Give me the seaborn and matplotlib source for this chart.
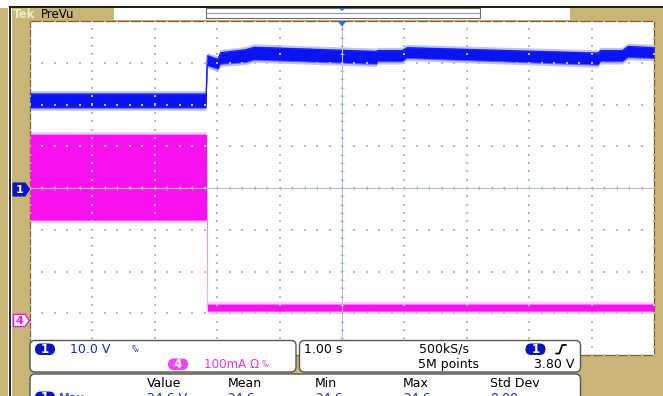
import numpy as np
import pandas as pd
import matplotlib
matplotlib.use("Agg")
import matplotlib.pyplot as plt
import seaborn as sns
from matplotlib.patches import FancyBboxPatch, Rectangle, Polygon
from matplotlib.collections import LineCollection

# ---------------- data ----------------
# Channel 1 (blue, volts) envelope of the noisy trace, time in s from left screen edge
ch1_time = [0.00, 2.82, 2.84, 3.01, 3.05, 3.45, 3.59, 5.55, 5.57, 5.96, 6.04, 9.10, 9.14, 9.49, 9.58, 10.00]
ch1_upper = [22.5, 22.5, 31.7, 30.8, 32.4, 33.1, 33.7, 32.7, 32.9, 32.9, 33.6, 32.3, 32.9, 32.9, 33.9, 33.6]
ch1_lower = [19.4, 19.4, 29.5, 28.7, 29.9, 30.3, 30.9, 29.9, 30.5, 30.5, 31.3, 29.7, 30.5, 30.5, 31.5, 31.3]

# Channel 4 (magenta, mA) envelope
ch4_time = [0.00, 2.83, 2.84, 10.00]
ch4_upper = [447, 447, 40, 40]
ch4_lower = [241, 241, 23, 23]

# vertical settings
ch1_scale = 10.0     # V / div
ch4_scale = 100.0    # mA / div
ch1_offset = 0.0     # div
ch4_offset = -3.18   # div

# readout texts
ch1_label = "10.0 V"
ch4_label = "100mA \u03a9"
time_label = "1.00 s"
rate_label = "500kS/s"
points_label = "5M points"
trig_label = "3.80 V"
meas_headers = ["Value", "Mean", "Min", "Max", "Std Dev"]
meas_name = "Max"
meas_values = ["24.6 V", "24.6", "24.6", "24.6", "0.00"]

# ---------------- styling ----------------
sns.set_style("white")
plt.rcParams['font.family'] = ['DejaVu Sans']

W, H = 663, 396
TAN = '#c7b676'
BLUE = '#0a14f0'
DBLUE = '#0616c0'
PINK = '#fb12f3'
TXT_BLUE = '#1428d6'
TXT_PINK = '#e63ae6'

fig = plt.figure(figsize=(W / 100, H / 100), dpi=100)
fig.patch.set_facecolor(TAN)

L, T, R, B = 30, 21, 654, 355
ax = fig.add_axes([L / W, 1 - B / H, (R - L) / W, (B - T) / H])
ax.set_xlim(0, 10)
ax.set_ylim(-4, 4)
ax.set_facecolor('white')
for s in ax.spines.values():
    s.set_color('#8a5a2a')
    s.set_linewidth(0.9)
ax.set_xticks([])
ax.set_yticks([])

# traces
t1 = np.array(ch1_time)
u1 = np.array(ch1_upper) / ch1_scale + ch1_offset
l1 = np.array(ch1_lower) / ch1_scale + ch1_offset
t4 = np.array(ch4_time)
u4 = np.array(ch4_upper) / ch4_scale + ch4_offset
l4 = np.array(ch4_lower) / ch4_scale + ch4_offset

# faint connecting edge of ch4 step
ax.plot([t4[1] + 0.005, t4[1] + 0.005], [l4[1], u4[2]], color='#ffc0ff', lw=0.8, zorder=2)

ax.fill_between(t4, l4 - 0.06, u4 + 0.06, color=PINK, alpha=0.22, lw=0, zorder=2)
ax.fill_between(t4, l4, u4, color=PINK, lw=0, zorder=3)
ax.fill_between(t1, l1 - 0.08, u1 + 0.08, color=BLUE, alpha=0.25, lw=0, zorder=2)
ax.fill_between(t1, l1 - 0.03, u1 + 0.03, color=BLUE, alpha=0.6, lw=0, zorder=2)
ax.fill_between(t1, l1, u1, color=BLUE, lw=0, zorder=3)
sns.lineplot(x=t1, y=u1, ax=ax, color=BLUE, lw=0.6, sort=False, estimator=None, zorder=3)
sns.lineplot(x=t1, y=l1, ax=ax, color=BLUE, lw=0.6, sort=False, estimator=None, zorder=3)

# graticule dots
gx, gy = [], []
for xv in range(0, 11):
    for yv in np.arange(-4, 4.001, 0.2):
        gx.append(xv); gy.append(yv)
for yv in range(-4, 5):
    for xv in np.arange(0, 10.001, 0.2):
        gx.append(xv); gy.append(yv)
ax.scatter(gx, gy, s=0.6, marker='s', color='#bcbcbc', linewidths=0, zorder=4)

# center cross with ticks
ax.axvline(5, color='#b4c0d2', lw=0.8, zorder=5)
ax.axhline(0, color='#b4c0d2', lw=0.8, zorder=5)
segs = []
for yv in np.arange(-4, 4.001, 0.2):
    segs.append([(5 - 0.03, yv), (5 + 0.03, yv)])
for xv in np.arange(0, 10.001, 0.2):
    segs.append([(xv, -0.045), (xv, 0.045)])
ax.add_collection(LineCollection(segs, colors='#b0bccc', lw=0.7, zorder=5))

# ---------------- overlay (chrome in pixel coords) ----------------
ov = fig.add_axes([0, 0, 1, 1], zorder=10)
ov.set_xlim(0, W)
ov.set_ylim(H, 0)
ov.axis('off')
ov.patch.set_alpha(0)

ov.add_patch(Rectangle((0, 0), W, 6.3, fc='white', ec='none'))
ov.add_patch(Rectangle((0, 0), 8.3, 8, fc='white', ec='none'))
ov.add_patch(Rectangle((8.3, 6), 4.0, H, fc='white', ec='none'))
ov.plot([9.8, 9.8], [6.3, H], color='black', lw=1.2, solid_capstyle='butt')
ov.plot([9.2, W], [6.9, 6.9], color='black', lw=1.2, solid_capstyle='butt')

# top bar
ov.add_patch(Rectangle((114, 7.6), 456, 12.6, fc='white', ec='none'))
ov.add_patch(Rectangle((205.5, 7.6), 274.5, 10.4, fc='white', ec='#6a6a6a', lw=0.8))
ov.plot([206.5, 479], [12.7, 12.7], color='#8a9ab8', lw=0.8)
ov.add_patch(Polygon([(338.5, 7.6), (345.5, 7.6), (342, 11)], closed=True, fc='#1f6fe0', ec='none'))
ov.add_patch(Polygon([(337.5, 21), (346.5, 21), (342, 26.5)], closed=True, fc='#1f6fe0', ec='none'))
ov.text(13, 14.5, "Tek", color='#efe8d0', fontsize=8.5, fontweight='bold', va='center', ha='left')
ov.text(41, 14.5, "PreVu", color='black', fontsize=8.5, va='center', ha='left')

# ground markers
ov.add_patch(Polygon([(13, 183), (25, 183), (29.5, 189), (25, 196), (13, 196)], closed=True,
                     fc=DBLUE, ec=DBLUE, lw=0.8))
ov.text(19.5, 189.6, "1", color='white', fontsize=8, fontweight='bold', ha='center', va='center')
ov.add_patch(Polygon([(13.5, 314.3), (25, 314.3), (29.3, 320.6), (25, 326.5), (13.5, 326.5)], closed=True,
                     fc='white', ec=PINK, lw=1.0))
ov.text(19.5, 320.8, "4", color=PINK, fontsize=8, fontweight='bold', ha='center', va='center')


def box(x, y, w, h):
    ov.add_patch(FancyBboxPatch((x, y), w, h, boxstyle="round,pad=0,rounding_size=5",
                                fc='white', ec='#555555', lw=1.0))


def badge(x, y, txt, fc):
    ov.add_patch(FancyBboxPatch((x, y), 20, 11.5, boxstyle="round,pad=0,rounding_size=5.7",
                                fc=fc, ec='none'))
    ov.text(x + 10, y + 6.3, txt, color='white', fontsize=8.5, fontweight='bold', ha='center', va='center')


box(30, 340.5, 266, 31.5)
box(299.5, 340.5, 281, 31.5)
box(30, 374, 550.5, 40)

badge(35, 343.5, "1", DBLUE)
ov.text(69.5, 353, ch1_label, color=TXT_BLUE, fontsize=9, va='baseline')
ov.text(131, 348.6, "B", color=TXT_BLUE, fontsize=4.2, va='baseline')
ov.text(133.5, 352.2, "w", color=TXT_BLUE, fontsize=4.2, va='baseline')
badge(168, 358.5, "4", '#f045f0')
ov.text(203.5, 368, ch4_label, color=TXT_PINK, fontsize=8.6, va='baseline')
ov.text(261, 363.6, "B", color=TXT_PINK, fontsize=4.2, va='baseline')
ov.text(263.5, 367.2, "w", color=TXT_PINK, fontsize=4.2, va='baseline')

ov.text(304, 353, time_label, color='black', fontsize=9, va='baseline')
ov.text(418.5, 353, rate_label, color='black', fontsize=9, va='baseline')
badge(525.5, 343.5, "1", DBLUE)
ov.plot([556, 559.3, 562.3, 566], [353.5, 353.5, 345, 345], color='black', lw=1.3)
ov.text(418.5, 368, points_label, color='black', fontsize=9, va='baseline')
ov.text(574, 368, trig_label, color='black', fontsize=9, va='baseline', ha='right')

col_x = [147, 227.5, 315, 403, 490.5]
for cx, hd in zip(col_x, meas_headers):
    ov.text(cx, 386.6, hd, color='black', fontsize=9, va='baseline')
badge(35, 391.5, "1", DBLUE)
ov.text(59, 401.5, meas_name, color=TXT_BLUE, fontsize=9, va='baseline')
for cx, v in zip(col_x, meas_values):
    ov.text(cx, 401.5, v, color=TXT_BLUE, fontsize=9, va='baseline')

fig.savefig("out.png", dpi=100, facecolor=fig.get_facecolor())
